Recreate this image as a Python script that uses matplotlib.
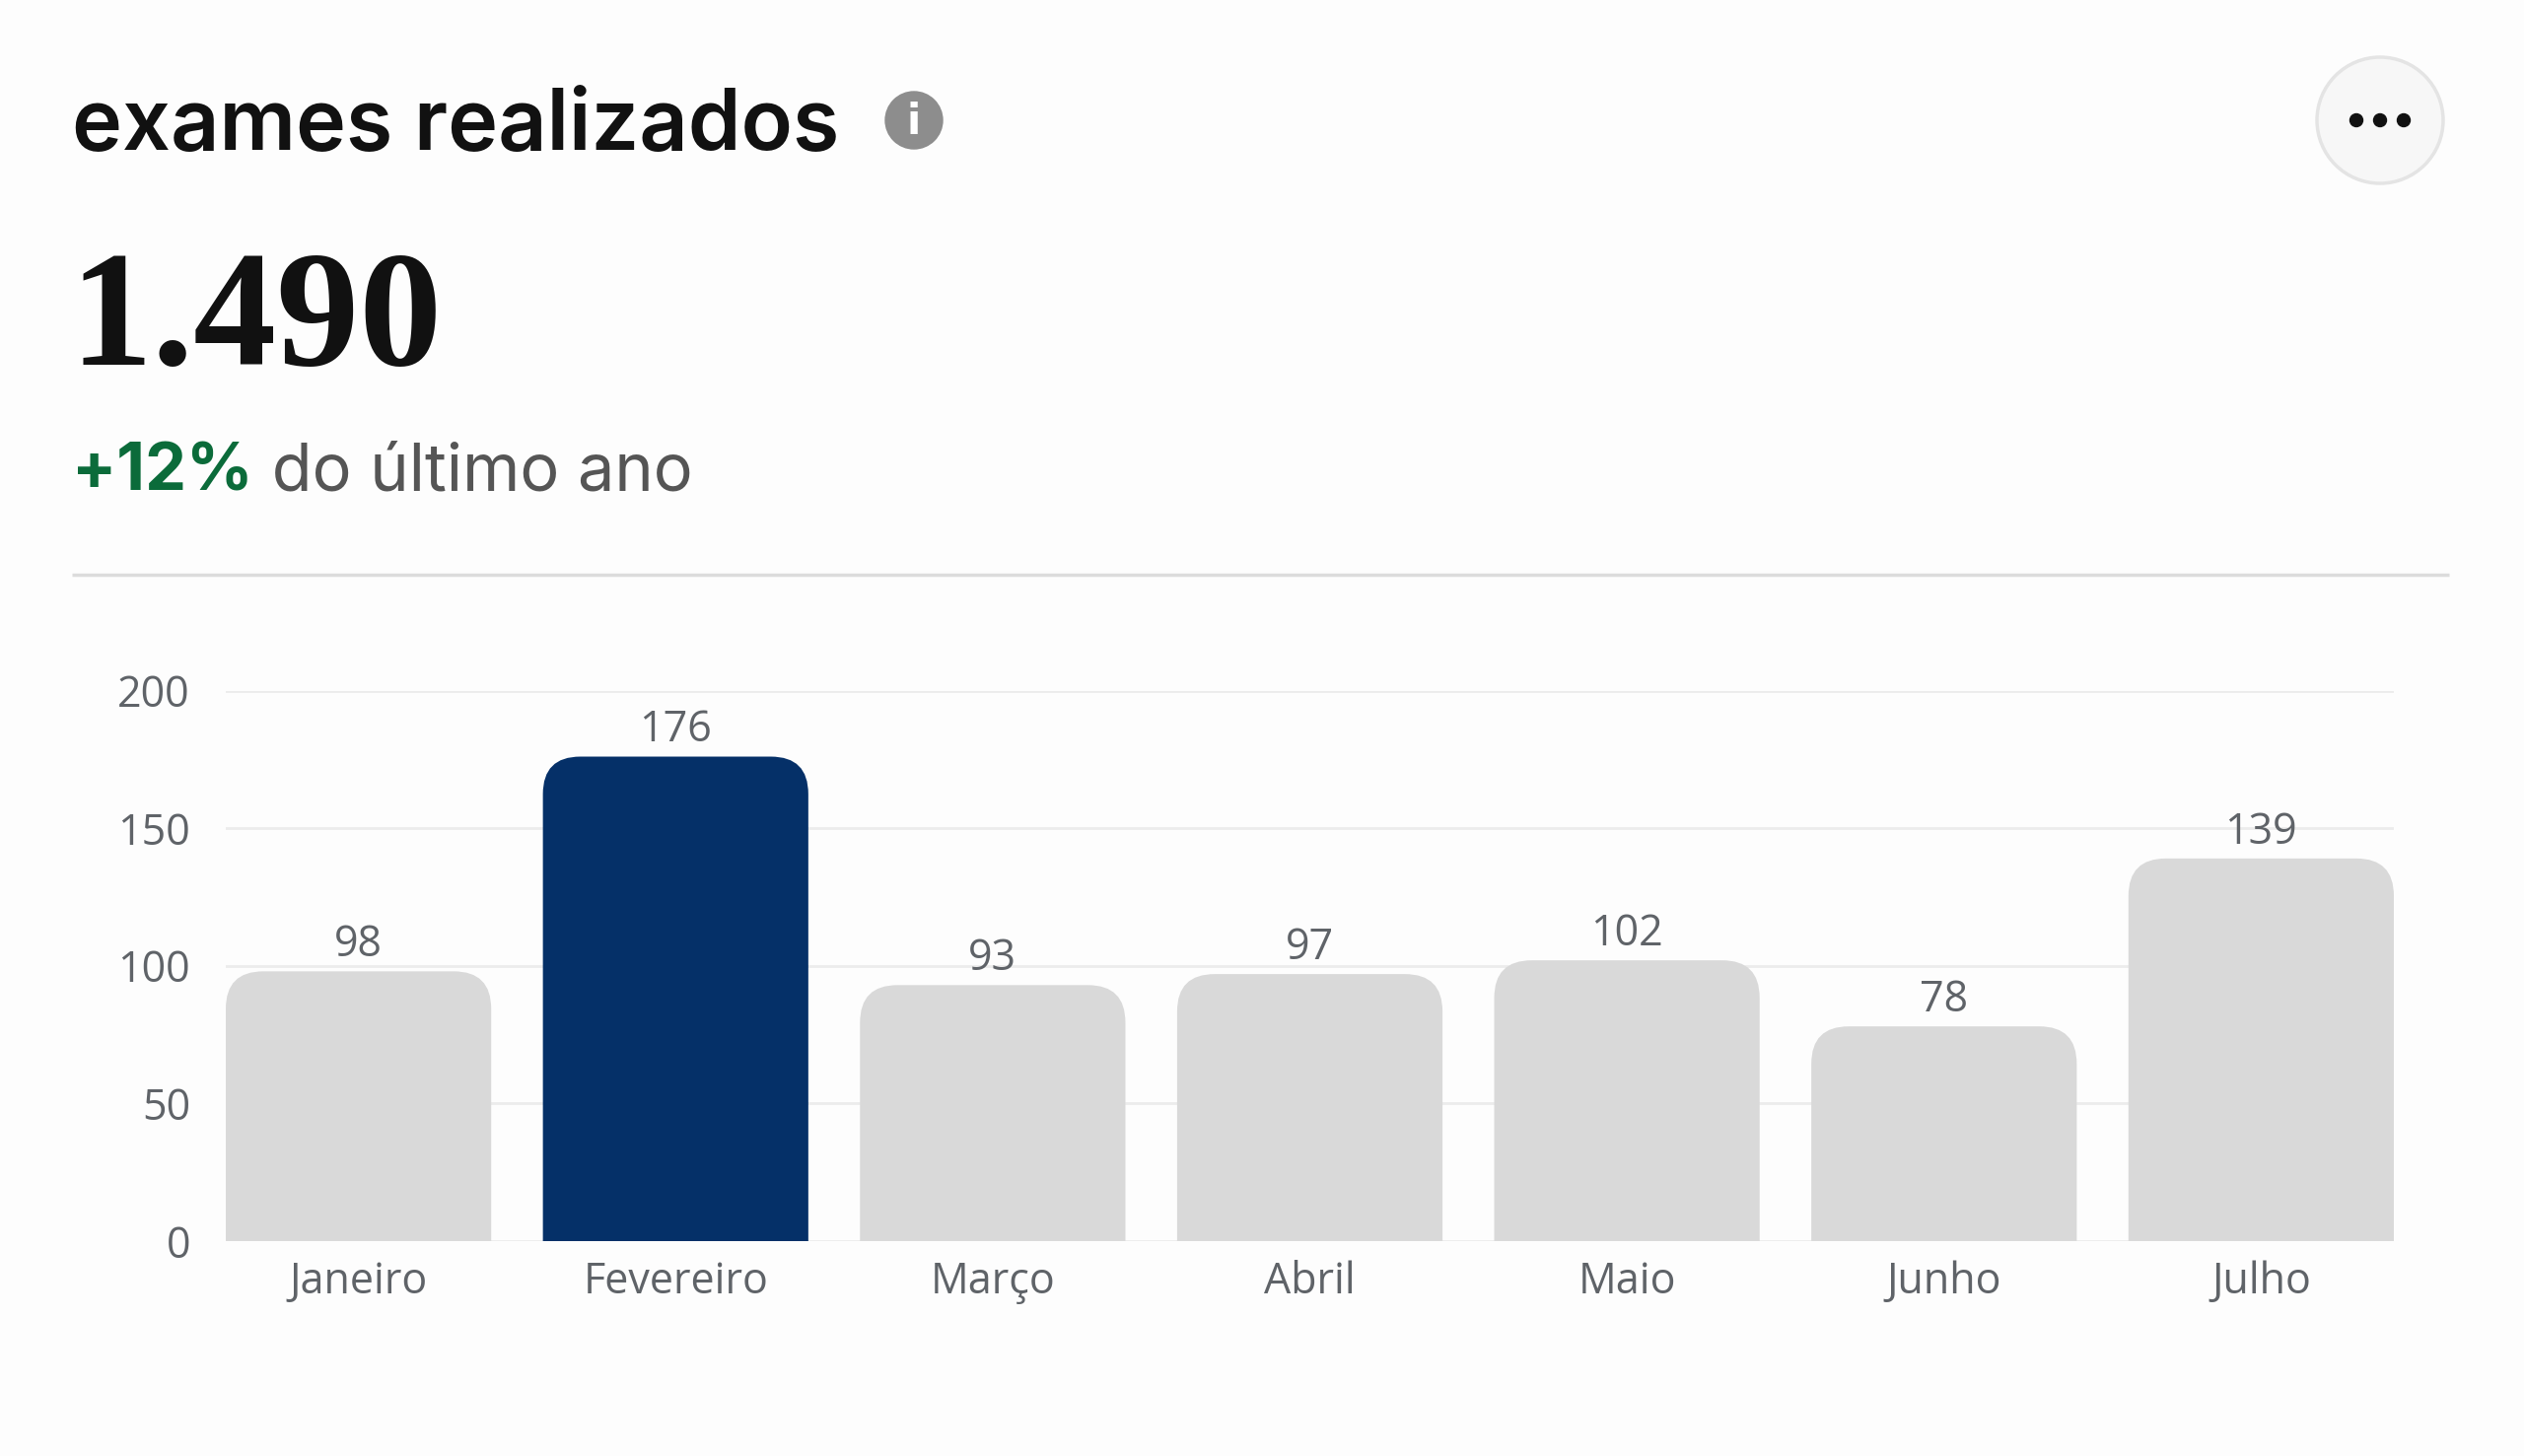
import matplotlib
matplotlib.use("Agg")
import matplotlib.pyplot as plt
from matplotlib.patches import FancyBboxPatch, Circle

# ==========================================
# DATA
# ==========================================
months = ['Janeiro', 'Fevereiro', 'Março', 'Abril', 'Maio', 'Junho', 'Julho']
exams = [98, 176, 93, 97, 102, 78, 139]
highlight = 'Fevereiro'
y_ticks = [0, 50, 100, 150, 200]

title = 'exames realizados'
total_label = '1.490'
change_label = '+12%'
change_text = ' do último ano'
# ==========================================

W, H = 2560, 1477
DPI = 100

BG = '#fdfdfd'
GRAY_BAR = '#d9d9d9'
NAVY = '#053068'
TICK_COLOR = '#5f6368'
GRID_COLOR = '#ececec'
GREEN = '#0b6b3a'

fig = plt.figure(figsize=(W / DPI, H / DPI), dpi=DPI, facecolor=BG)

# overlay axes in pixel coordinates for the header part
hdr = fig.add_axes([0, 0, 1, 1], zorder=0)
hdr.set_xlim(0, W)
hdr.set_ylim(H, 0)
hdr.axis('off')

hdr.text(73, 152, title, fontsize=62, fontfamily='Inter', fontweight='semibold',
         color='#111111', va='baseline', ha='left')

# info icon
hdr.add_patch(Circle((927, 122), 29, color='#8d8d8d', zorder=2))
hdr.text(927, 124, 'i', fontsize=30, fontfamily='DejaVu Sans', fontweight='bold',
         color='white', ha='center', va='center', zorder=3)

# "more" button
hdr.add_patch(Circle((2414, 122), 64, facecolor='#f7f7f7', edgecolor='#e4e4e4',
                     linewidth=2.5, zorder=2))
for dx in (-24, 0, 24):
    hdr.add_patch(Circle((2414 + dx, 122), 6.5, color='#111111', zorder=3))

hdr.text(70, 370, total_label, fontsize=121, fontfamily='Liberation Serif',
         fontweight='bold', color='#111111', va='baseline', ha='left')

t1 = hdr.text(73, 497, change_label, fontsize=48, fontfamily='Inter',
              fontweight='bold', color=GREEN, va='baseline', ha='left')
renderer = fig.canvas.get_renderer()
bb = t1.get_window_extent(renderer=renderer)
hdr.text(bb.x1, 497, change_text, fontsize=48, fontfamily='Inter',
         color='#555555', va='baseline', ha='left')

# separator
hdr.plot([73, 2484], [583, 583], color='#dcdcdc', linewidth=2.5, solid_capstyle='butt')

# ==========================================
# BAR CHART
# ==========================================
left, right = 229, 2428
y0_px, y200_px = 1259, 700.5
ax = fig.add_axes([left / W, 1 - y0_px / H, (right - left) / W, (y0_px - y200_px) / H],
                  zorder=1)
ax.set_facecolor('none')

bar_w = 0.837
x = list(range(len(months)))
colors = [NAVY if m == highlight else GRAY_BAR for m in months]
bars = ax.bar(x, exams, width=bar_w, color=colors, zorder=2)

ax.set_xlim(-bar_w / 2, len(months) - 1 + bar_w / 2)
ax.set_ylim(0, 200)

# rounded top corners: replace rectangles by rounded boxes clipped at y=0
px_per_x = (right - left) / (ax.get_xlim()[1] - ax.get_xlim()[0])
px_per_y = (y0_px - y200_px) / 200
radius_px = 38
rx = radius_px / px_per_x
ry = radius_px / px_per_y
for rect, c in zip(bars.patches, colors):
    rect.set_visible(False)
    box = FancyBboxPatch((rect.get_x(), -ry), rect.get_width(), rect.get_height() + ry,
                         boxstyle=f'round,pad=0,rounding_size={rx}',
                         mutation_aspect=ry / rx, facecolor=c, edgecolor='none',
                         zorder=2)
    ax.add_patch(box)

for xi, v in zip(x, exams):
    ax.annotate(str(v), (xi, v), xytext=(0, 3), textcoords='offset points',
                ha='center', va='bottom', fontsize=31, fontfamily='Open Sans',
                color=TICK_COLOR)

ax.set_yticks(y_ticks)
ax.set_yticklabels([str(t) for t in y_ticks])
ax.set_xticks(x)
ax.set_xticklabels(months)
ax.yaxis.grid(True, color=GRID_COLOR, linewidth=2)
ax.set_axisbelow(True)
for s in ax.spines.values():
    s.set_visible(False)
ax.tick_params(axis='both', length=0, labelsize=31, labelcolor=TICK_COLOR)
ax.tick_params(axis='y', pad=26)
ax.tick_params(axis='x', pad=14)
for lbl in ax.get_xticklabels() + ax.get_yticklabels():
    lbl.set_fontfamily('Open Sans')

fig.savefig('out.png', dpi=DPI, facecolor=BG)
